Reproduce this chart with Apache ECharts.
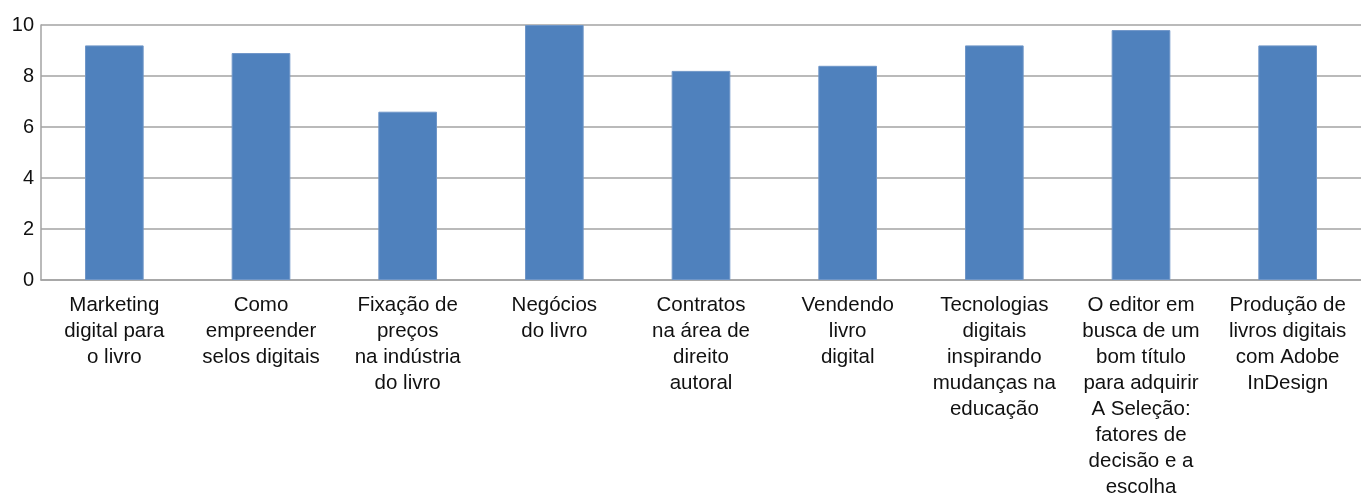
<!DOCTYPE html>
<html>
<head>
<meta charset="utf-8">
<script src="https://cdn.jsdelivr.net/npm/echarts@6/dist/echarts.min.js"></script>
<style>
  html, body { margin: 0; padding: 0; background: #fff; }
  #chart { width: 1361px; height: 494px; }
</style>
</head>
<body>
<div id="chart"></div>
<script>
// Course titles (line breaks as shown under each bar)
const categories = [
  'Marketing\ndigital para\no livro',
  'Como\nempreender\nselos digitais',
  'Fixação de\npreços\nna indústria\ndo livro',
  'Negócios\ndo livro',
  'Contratos\nna área de\ndireito\nautoral',
  'Vendendo\nlivro\ndigital',
  'Tecnologias\ndigitais\ninspirando\nmudanças na\neducação',
  'O editor em\nbusca de um\nbom título\npara adquirir\nA Seleção:\nfatores de\ndecisão e a\nescolha',
  'Produção de\nlivros digitais\ncom Adobe\nInDesign'
];

// Score per course
const scores = [9.2, 8.9, 6.6, 10, 8.2, 8.4, 9.2, 9.8, 9.2];

// Value axis range
const yMin = 0;
const yMax = 10;
const yStep = 2;

const gridColor = '#a3a3a3';
const font = "'Liberation Sans', Arial, sans-serif";

const chart = echarts.init(document.getElementById('chart'), null, { renderer: 'canvas' });
chart.setOption({
  animation: false,
  backgroundColor: '#ffffff',
  grid: { left: 41, right: 0, top: 25, bottom: 214, containLabel: false, outerBoundsMode: 'none' },
  xAxis: {
    type: 'category',
    data: categories,
    axisLine: { show: true, lineStyle: { color: gridColor, width: 1.5 } },
    axisTick: { show: false },
    axisLabel: {
      interval: 0,
      margin: 12,
      color: '#111',
      fontFamily: font,
      fontSize: 20.5,
      lineHeight: 26,
      align: 'center'
    }
  },
  yAxis: {
    type: 'value',
    min: yMin,
    max: yMax,
    interval: yStep,
    axisLine: { show: true, lineStyle: { color: gridColor, width: 1.5 } },
    axisTick: { show: false },
    axisLabel: {
      margin: 7,
      color: '#111',
      fontFamily: font,
      fontSize: 20
    },
    splitLine: { show: true, lineStyle: { color: gridColor, width: 1.5 } }
  },
  series: [{
    type: 'bar',
    data: scores,
    barWidth: '40%',
    itemStyle: { color: '#4f81bd', borderColor: '#6f96c8', borderWidth: 1 }
  }]
});
</script>
</body>
</html>
